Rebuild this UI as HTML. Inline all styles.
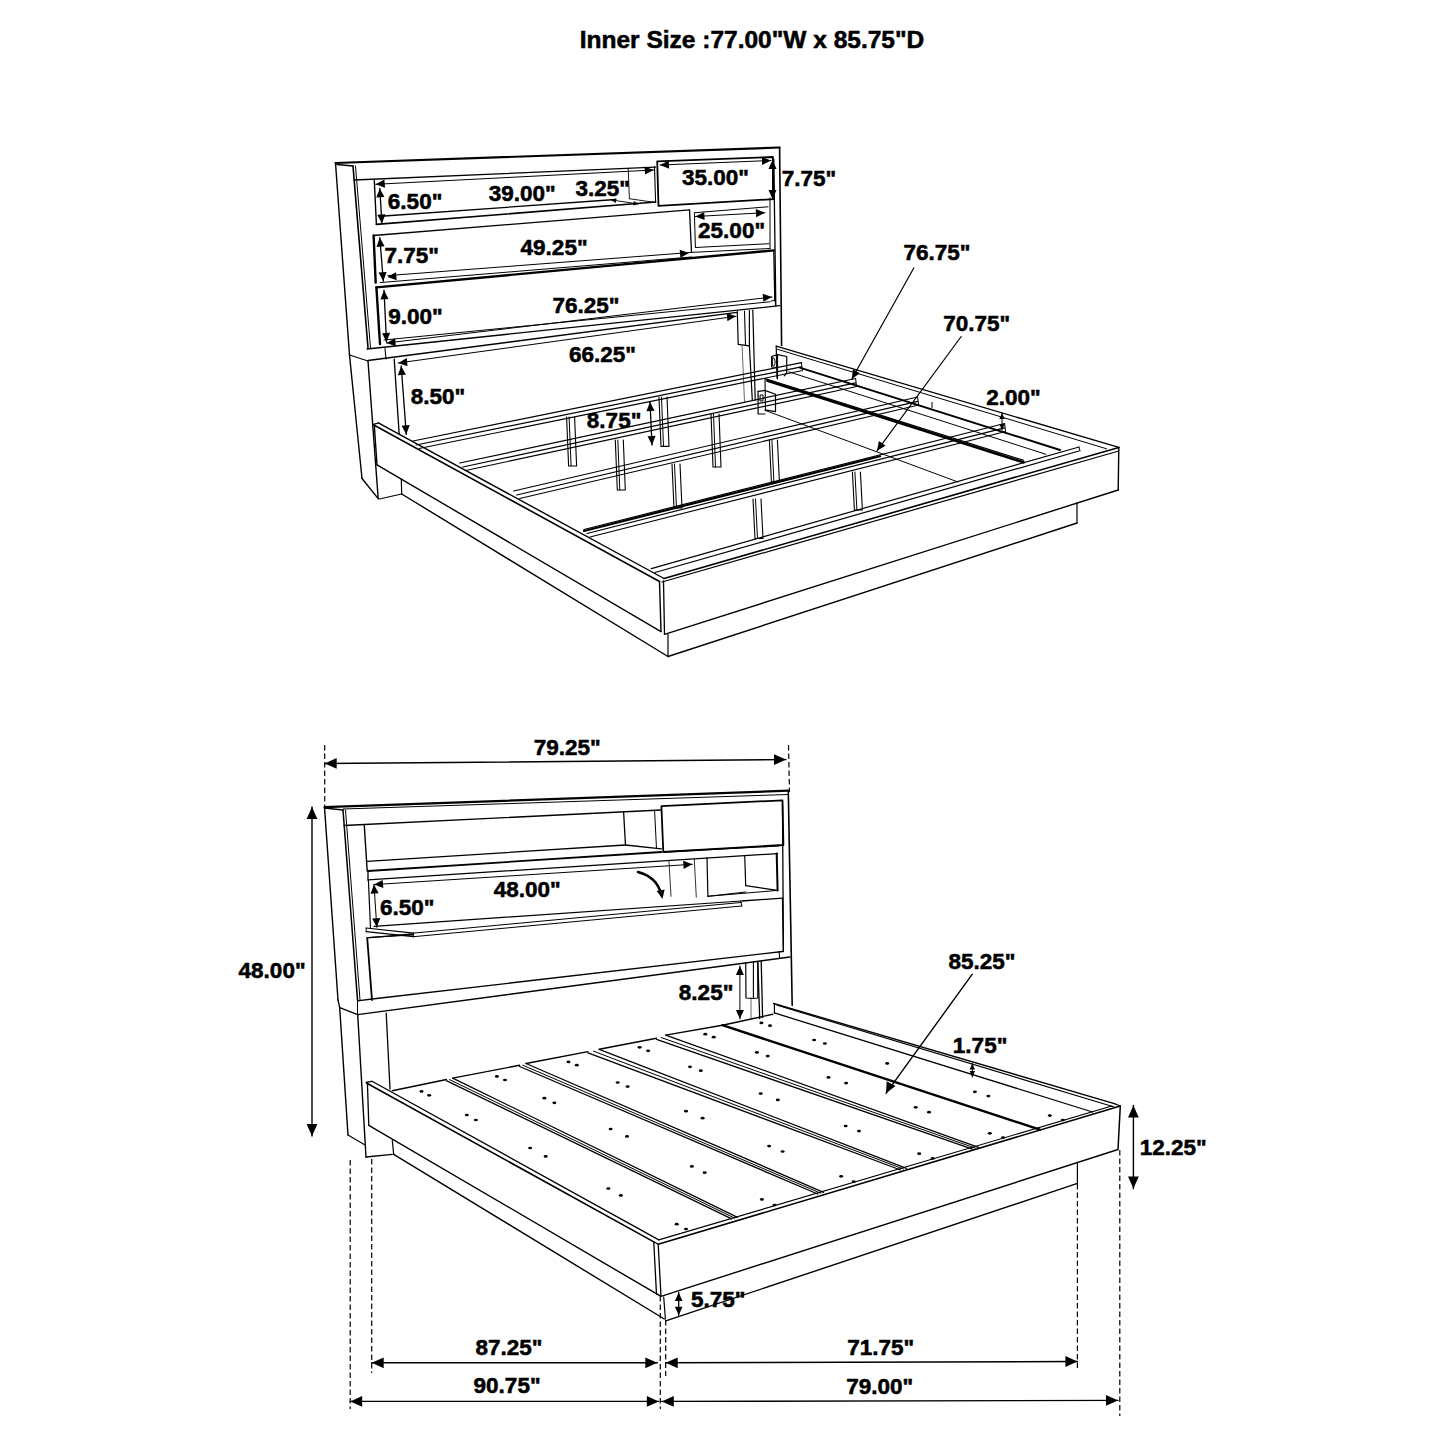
<!DOCTYPE html>
<html><head><meta charset="utf-8"><style>
html,body{margin:0;padding:0;background:#fff;width:1445px;height:1445px;overflow:hidden}
svg{display:block}
text{font-family:"Liberation Sans",sans-serif;font-weight:bold;fill:#000;stroke:#000;stroke-width:0.55px}
</style></head><body>
<svg width="1445" height="1445" viewBox="0 0 1445 1445">
<g fill="none" stroke="#000" stroke-linecap="round" stroke-linejoin="round">
<polyline points="335.5,163.0 779.6,147.5" stroke-width="2.20"/>
<polyline points="779.6,147.5 781.6,345.5" stroke-width="1.60"/>
<polyline points="335.5,163.0 349.5,355.0" stroke-width="1.40"/>
<polyline points="337.0,164.5 353.0,166.0" stroke-width="1.30"/>
<polyline points="353.0,166.0 368.0,348.0" stroke-width="1.60"/>
<polyline points="355.5,166.0 370.5,348.0" stroke-width="1.00"/>
<polyline points="354.0,180.0 655.6,167.1" stroke-width="1.30"/>
<polyline points="349.5,355.0 368.0,361.0" stroke-width="1.30"/>
<polyline points="349.5,355.0 362.0,478.5" stroke-width="1.40"/>
<polyline points="362.0,478.5 378.2,498.6" stroke-width="1.40"/>
<polyline points="368.0,361.0 378.2,498.6" stroke-width="1.40"/>
<polyline points="374.3,180.8 376.4,224.4" stroke-width="1.40"/>
<polyline points="376.4,224.4 655.6,202.0" stroke-width="1.60"/>
<polyline points="384.0,216.0 615.7,199.5" stroke-width="1.30"/>
<polyline points="628.2,168.3 629.4,198.7" stroke-width="0.90"/>
<polyline points="654.5,166.4 655.6,202.5" stroke-width="1.10"/>
<polyline points="629.4,198.7 655.3,202.5" stroke-width="0.90"/>
<polyline points="611.1,199.9 638.5,204.0" stroke-width="0.90"/>
<polyline points="657.2,161.3 772.9,157.0 773.8,199.1 658.5,205.9 657.2,161.3" stroke-width="1.80"/>
<polyline points="773.8,159.4 775.8,305.7" stroke-width="1.30"/>
<polyline points="770.0,198.0 770.0,248.5" stroke-width="1.00"/>
<polyline points="373.6,235.5 689.5,209.8" stroke-width="1.30"/>
<polyline points="689.5,209.8 691.5,252.4" stroke-width="1.30"/>
<polyline points="373.6,235.5 375.7,282.6" stroke-width="2.40"/>
<polyline points="388.0,275.6 691.5,252.4" stroke-width="1.00"/>
<polyline points="380.0,282.6 691.5,257.0" stroke-width="1.00"/>
<polyline points="695.0,212.7 768.0,206.8" stroke-width="1.00"/>
<polyline points="695.4,247.5 769.0,243.7" stroke-width="1.00"/>
<polyline points="694.4,212.7 695.4,247.5" stroke-width="1.00"/>
<polyline points="691.5,252.4 770.0,248.5" stroke-width="1.00"/>
<polyline points="376.4,287.4 773.8,250.4" stroke-width="2.40"/>
<polyline points="773.8,250.4 774.8,300.8" stroke-width="1.30"/>
<polyline points="376.4,287.4 380.0,344.0" stroke-width="2.40"/>
<polyline points="384.0,340.0 770.0,301.8" stroke-width="1.00"/>
<polyline points="367.0,349.0 779.6,305.7" stroke-width="1.30"/>
<polyline points="368.0,360.5 737.0,312.4" stroke-width="1.30"/>
<polyline points="394.2,359.1 399.2,434.4" stroke-width="1.30"/>
<polyline points="385.0,348.5 386.0,359.0" stroke-width="1.10"/>
<polyline points="737.3,311.5 738.2,344.4 749.4,345.9 749.4,310.5" stroke-width="1.20"/>
<polyline points="744.5,311.0 745.5,345.0" stroke-width="1.10"/>
<polyline points="749.4,345.9 752.3,400.0" stroke-width="1.20"/>
<polyline points="752.8,310.0 755.2,400.0" stroke-width="1.20"/>
<polyline points="742.1,345.9 744.5,402.0" stroke-width="0.60"/>
<polyline points="775.0,280.0 775.5,305.7" stroke-width="1.10"/>
<polyline points="771.0,301.0 775.0,300.3" stroke-width="1.00"/>
<polyline points="379.8,188.4 381.9,223.5" stroke-width="1.30"/>
<polyline points="379.8,237.6 383.3,281.2" stroke-width="1.30"/>
<polyline points="384.0,290.2 386.5,342.0" stroke-width="1.30"/>
<polyline points="401.2,366.0 406.3,434.4" stroke-width="1.30"/>
<polyline points="650.0,402.0 652.0,445.0" stroke-width="1.30"/>
<polyline points="375.7,184.3 653.7,170.0" stroke-width="1.00"/>
<polyline points="386.5,343.0 772.0,297.0" stroke-width="1.00"/>
<polyline points="398.2,363.0 736.0,316.3" stroke-width="1.00"/>
<polyline points="660.0,165.0 771.0,160.5" stroke-width="1.00"/>
<polyline points="772.5,160.0 772.5,199.0" stroke-width="1.00"/>
<polyline points="695.4,216.5 765.0,212.7" stroke-width="1.00"/>
<polyline points="374.3,425.2 659.5,581.5" stroke-width="1.60"/>
<polyline points="373.4,424.3 378.8,422.9" stroke-width="1.20"/>
<polyline points="378.8,423.1 664.0,578.5" stroke-width="1.40"/>
<polyline points="374.3,425.2 377.0,464.8" stroke-width="1.40"/>
<polyline points="377.0,464.8 661.0,631.6" stroke-width="1.40"/>
<polyline points="659.5,581.5 661.0,631.6" stroke-width="1.40"/>
<polyline points="663.5,581.0 664.5,634.3" stroke-width="1.30"/>
<polyline points="664.0,578.5 1118.8,447.4" stroke-width="1.60"/>
<polyline points="662.0,582.0 1118.8,451.0" stroke-width="1.20"/>
<polyline points="664.5,634.3 1118.2,490.0" stroke-width="1.40"/>
<polyline points="1118.8,447.4 1118.2,490.0" stroke-width="1.40"/>
<polyline points="401.3,479.2 401.7,494.0" stroke-width="1.20"/>
<polyline points="379.2,499.0 401.7,494.0" stroke-width="1.20"/>
<polyline points="401.7,494.0 668.0,656.5" stroke-width="1.40"/>
<polyline points="668.0,634.0 668.0,656.5" stroke-width="1.20"/>
<polyline points="668.0,656.5 1077.0,523.0" stroke-width="1.40"/>
<polyline points="1077.0,503.0 1077.0,523.0" stroke-width="1.20"/>
<polyline points="776.2,346.2 1118.8,447.4" stroke-width="1.40"/>
<polyline points="777.5,349.3 1106.6,448.8" stroke-width="1.00"/>
<polyline points="776.2,346.2 777.0,378.0" stroke-width="1.20"/>
<polyline points="413.0,441.0 801.4,362.6" stroke-width="1.20"/>
<polyline points="416.0,445.0 801.4,366.9" stroke-width="1.20"/>
<polyline points="419.0,448.5 801.4,370.8" stroke-width="1.10"/>
<polyline points="801.4,362.6 802.4,370.8" stroke-width="1.00"/>
<polyline points="459.7,463.0 855.6,378.5" stroke-width="1.20"/>
<polyline points="462.7,467.0 855.6,382.8" stroke-width="1.20"/>
<polyline points="465.7,470.5 855.6,386.7" stroke-width="1.10"/>
<polyline points="855.6,378.5 856.6,386.7" stroke-width="1.00"/>
<polyline points="513.7,491.0 917.6,397.0" stroke-width="1.20"/>
<polyline points="516.7,495.0 917.6,401.3" stroke-width="1.20"/>
<polyline points="519.7,498.5 917.6,405.2" stroke-width="1.10"/>
<polyline points="917.6,397.0 918.6,405.2" stroke-width="1.00"/>
<polyline points="584.0,529.5 1004.6,423.5" stroke-width="1.20"/>
<polyline points="587.0,533.5 1004.6,427.8" stroke-width="1.20"/>
<polyline points="590.0,537.0 1004.6,431.7" stroke-width="1.10"/>
<polyline points="1004.6,423.5 1005.6,431.7" stroke-width="1.00"/>
<polyline points="584.0,531.0 880.0,456.3" stroke-width="2.20"/>
<polyline points="651.3,568.6 1079.0,447.0" stroke-width="1.20"/>
<polyline points="655.0,572.5 1079.0,451.0" stroke-width="1.20"/>
<polyline points="1079.0,447.0 1080.0,451.0" stroke-width="1.00"/>
<polyline points="765.0,378.6 1023.6,460.3" stroke-width="1.20"/>
<polyline points="767.5,380.8 1023.6,462.3" stroke-width="2.60"/>
<polyline points="765.0,378.6 765.5,410.7" stroke-width="1.10"/>
<polyline points="799.8,367.6 1060.0,450.0" stroke-width="2.00"/>
<polyline points="788.7,371.8 1046.0,454.3" stroke-width="1.00"/>
<polyline points="766.0,410.7 958.0,482.0" stroke-width="1.00"/>
<polyline points="771.6,356.5 777.5,354.6 786.7,356.5 786.7,373.0 784.2,375.9" stroke-width="1.20"/>
<polyline points="771.6,356.5 771.6,367.0 777.5,367.5" stroke-width="1.20"/>
<polyline points="777.5,354.6 777.5,378.8" stroke-width="1.20"/>
<path d="M772.7,357.5 Q775,358 775,361 L775,364 Q774,367 772.7,366Z" stroke-width="1.00"/>
<polyline points="758.1,391.4 764.9,390.4 775.5,394.3 775.5,411.7 764.9,409.8" stroke-width="1.20"/>
<polyline points="758.1,391.4 758.1,414.0 764.9,414.0" stroke-width="1.20"/>
<path d="M760.5,395 L763,395 L763,401 L760.5,401Z" stroke-width="1.00"/>
<polyline points="932.0,402.4 932.0,407.6" stroke-width="1.00"/>
<polyline points="566.6,417.0 568.6,466.0 576.6,466.0 574.6,417.0" stroke-width="1.10"/>
<polyline points="569.1,417.0 571.1,466.0" stroke-width="1.00"/>
<polyline points="615.3,440.0 617.3,490.0 625.3,490.0 623.3,440.0" stroke-width="1.10"/>
<polyline points="617.8,440.0 619.8,490.0" stroke-width="1.00"/>
<polyline points="659.0,397.0 661.0,446.4 669.0,446.4 667.0,397.0" stroke-width="1.10"/>
<polyline points="661.5,397.0 663.5,446.4" stroke-width="1.00"/>
<polyline points="711.0,414.0 713.0,467.0 721.0,467.0 719.0,414.0" stroke-width="1.10"/>
<polyline points="713.5,414.0 715.5,467.0" stroke-width="1.00"/>
<polyline points="672.0,464.0 674.0,508.0 682.0,508.0 680.0,464.0" stroke-width="1.10"/>
<polyline points="674.5,464.0 676.5,508.0" stroke-width="1.00"/>
<polyline points="769.4,440.0 771.4,482.0 779.4,482.0 777.4,440.0" stroke-width="1.10"/>
<polyline points="771.9,440.0 773.9,482.0" stroke-width="1.00"/>
<polyline points="753.0,499.0 755.0,538.5 763.0,538.5 761.0,499.0" stroke-width="1.10"/>
<polyline points="755.5,499.0 757.5,538.5" stroke-width="1.00"/>
<polyline points="852.4,472.0 854.4,510.0 862.4,510.0 860.4,472.0" stroke-width="1.10"/>
<polyline points="854.9,472.0 856.9,510.0" stroke-width="1.00"/>
<polyline points="913.8,268.0 851.8,379.0" stroke-width="1.20"/>
<polyline points="961.2,336.5 877.0,450.8" stroke-width="1.20"/>
<polyline points="1002.0,413.0 1002.0,430.0" stroke-width="1.00"/>
<polyline points="324.7,745.0 324.7,806.0" stroke-width="1.20" stroke-dasharray="5.5 3" stroke-linecap="butt"/>
<polyline points="788.5,745.0 789.5,792.0" stroke-width="1.20" stroke-dasharray="5.5 3" stroke-linecap="butt"/>
<polyline points="324.7,763.5 786.0,759.6" stroke-width="1.40"/>
<polyline points="312.0,807.0 312.0,1136.0" stroke-width="1.40"/>
<polyline points="324.5,807.1 788.3,790.7" stroke-width="2.20"/>
<polyline points="343.0,809.0 788.3,794.5" stroke-width="1.00"/>
<polyline points="324.5,808.0 343.0,810.0" stroke-width="1.30"/>
<polyline points="788.3,790.7 792.2,1005.5" stroke-width="1.60"/>
<polyline points="324.5,807.1 338.0,1000.0" stroke-width="1.40"/>
<polyline points="343.0,810.0 357.5,1000.0" stroke-width="1.50"/>
<polyline points="345.5,810.0 360.0,1000.0" stroke-width="1.00"/>
<polyline points="344.0,825.5 661.0,810.0" stroke-width="1.30"/>
<polyline points="364.3,825.5 367.2,871.0" stroke-width="1.40"/>
<polyline points="367.2,861.4 625.5,845.0" stroke-width="1.30"/>
<polyline points="625.5,845.0 661.4,848.8" stroke-width="1.30"/>
<polyline points="368.0,871.0 661.4,852.0" stroke-width="1.80"/>
<polyline points="663.3,852.0 778.6,845.9" stroke-width="1.30"/>
<polyline points="623.6,812.0 625.5,845.0" stroke-width="1.30"/>
<polyline points="654.6,811.0 656.5,848.8" stroke-width="1.00"/>
<polyline points="661.4,806.2 782.5,800.3 783.4,845.0 663.3,852.0 661.4,806.2" stroke-width="1.80"/>
<polyline points="782.5,804.2 783.4,951.5" stroke-width="1.30"/>
<polyline points="368.0,879.8 777.6,853.6" stroke-width="1.30"/>
<polyline points="368.0,871.0 368.0,880.0" stroke-width="1.30"/>
<polyline points="374.0,884.6 692.4,864.3" stroke-width="1.00"/>
<polyline points="669.0,861.4 671.0,896.3" stroke-width="0.80"/>
<polyline points="694.3,859.4 696.3,897.2" stroke-width="0.80"/>
<polyline points="707.0,857.5 707.9,896.3" stroke-width="1.20"/>
<polyline points="744.7,855.6 745.7,885.6" stroke-width="1.20"/>
<polyline points="745.7,885.6 777.6,890.4" stroke-width="1.20"/>
<polyline points="707.9,896.3 745.7,892.0" stroke-width="1.00"/>
<polyline points="776.7,853.6 777.6,890.4" stroke-width="2.00"/>
<polyline points="707.9,896.3 777.6,890.4" stroke-width="1.00"/>
<polyline points="374.0,926.3 740.8,901.0" stroke-width="1.20"/>
<polyline points="366.2,928.0 413.4,933.1" stroke-width="1.20"/>
<polyline points="366.2,931.7 413.4,936.7" stroke-width="1.20"/>
<polyline points="366.2,928.0 366.2,931.7" stroke-width="1.00"/>
<polyline points="413.4,933.1 413.4,936.7" stroke-width="1.00"/>
<polyline points="413.4,933.1 740.8,902.5" stroke-width="1.00"/>
<polyline points="413.4,936.7 741.8,906.0" stroke-width="1.00"/>
<polyline points="740.8,901.0 741.8,906.0" stroke-width="1.00"/>
<polyline points="368.0,937.5 413.0,935.0" stroke-width="1.00"/>
<polyline points="368.4,880.0 370.5,928.0" stroke-width="1.20"/>
<path d="M638,872 Q657,877 661,894" stroke-width="2.60"/>
<polyline points="367.2,937.9 412.7,934.0" stroke-width="1.30"/>
<polyline points="741.8,901.0 782.5,898.2" stroke-width="1.30"/>
<polyline points="782.5,898.2 783.4,950.5" stroke-width="1.30"/>
<polyline points="367.2,937.9 372.0,1000.0" stroke-width="1.80"/>
<polyline points="372.0,999.0 782.5,951.5" stroke-width="1.30"/>
<polyline points="357.5,1000.8 372.0,999.0" stroke-width="1.30"/>
<polyline points="357.7,1014.6 789.8,957.0" stroke-width="1.40"/>
<polyline points="779.1,951.6 779.6,957.5" stroke-width="1.10"/>
<polyline points="357.5,1000.8 357.5,1014.6" stroke-width="1.00"/>
<polyline points="386.2,1013.1 390.0,1089.0" stroke-width="1.30"/>
<polyline points="374.0,884.6 376.8,927.3" stroke-width="1.00"/>
<polyline points="739.9,966.0 739.9,1018.9" stroke-width="1.00"/>
<polyline points="745.7,962.8 746.0,998.0 753.4,998.5 757.8,998.0 757.8,961.5" stroke-width="1.20"/>
<polyline points="753.4,962.0 753.4,998.5" stroke-width="1.10"/>
<polyline points="757.8,961.3 759.7,1018.5" stroke-width="1.30"/>
<polyline points="761.2,961.3 762.6,1017.5" stroke-width="1.30"/>
<polyline points="751.0,998.0 751.0,1018.0" stroke-width="0.60"/>
<polyline points="338.0,1000.0 339.7,1007.7" stroke-width="1.30"/>
<polyline points="339.7,1007.7 357.7,1014.6" stroke-width="1.30"/>
<polyline points="339.7,1007.7 348.0,1135.0" stroke-width="1.40"/>
<polyline points="348.0,1135.0 364.6,1144.7" stroke-width="1.20"/>
<polyline points="357.7,1014.6 366.0,1157.0" stroke-width="1.40"/>
<polyline points="366.0,1157.0 392.3,1154.4" stroke-width="1.30"/>
<polyline points="366.5,1083.0 654.3,1242.1" stroke-width="1.60"/>
<polyline points="366.2,1082.3 372.0,1081.3" stroke-width="1.20"/>
<polyline points="372.0,1081.3 658.8,1239.9" stroke-width="1.30"/>
<polyline points="367.4,1082.4 368.8,1125.3" stroke-width="1.30"/>
<polyline points="368.8,1125.3 661.0,1296.4" stroke-width="1.40"/>
<polyline points="653.8,1242.7 656.5,1294.2" stroke-width="1.30"/>
<polyline points="658.2,1244.3 661.0,1296.4" stroke-width="1.30"/>
<polyline points="392.3,1140.6 393.7,1154.4" stroke-width="1.20"/>
<polyline points="393.7,1154.4 664.3,1319.0" stroke-width="1.40"/>
<polyline points="663.7,1297.0 665.4,1319.0" stroke-width="1.20"/>
<polyline points="666.5,1320.7 1077.4,1183.4" stroke-width="1.40"/>
<polyline points="1077.4,1163.0 1077.4,1183.4" stroke-width="1.20"/>
<polyline points="654.3,1242.1 658.2,1244.3" stroke-width="1.20"/>
<polyline points="658.2,1244.3 1120.3,1106.0" stroke-width="1.60"/>
<polyline points="658.8,1239.9 1111.8,1106.0" stroke-width="1.10"/>
<polyline points="661.0,1296.4 1118.0,1149.5" stroke-width="1.40"/>
<polyline points="1120.3,1106.0 1118.0,1149.5" stroke-width="1.50"/>
<polyline points="1114.3,1103.6 1120.3,1106.0" stroke-width="1.20"/>
<polyline points="773.6,1003.5 1114.3,1103.6" stroke-width="1.40"/>
<polyline points="777.2,1005.3 1114.3,1107.0" stroke-width="1.10"/>
<polyline points="774.4,1004.0 774.4,1012.9" stroke-width="1.20"/>
<polyline points="774.4,1012.9 1092.5,1112.0" stroke-width="1.30"/>
<polyline points="392.3,1090.7 446.4,1079.5" stroke-width="1.40"/>
<polyline points="452.7,1078.1 519.6,1065.3" stroke-width="1.40"/>
<polyline points="526.0,1063.5 588.0,1051.6" stroke-width="1.40"/>
<polyline points="599.2,1049.3 656.5,1038.2" stroke-width="1.40"/>
<polyline points="665.7,1035.1 722.4,1025.2" stroke-width="1.40"/>
<polyline points="722.4,1025.2 772.7,1014.3" stroke-width="1.40"/>
<polyline points="446.4,1080.7 731.7,1218.9" stroke-width="1.30"/>
<polyline points="452.7,1078.1 737.5,1217.3" stroke-width="1.30"/>
<polyline points="449.5,1079.6 734.6,1218.1" stroke-width="1.00"/>
<polyline points="519.6,1066.5 817.7,1194.0" stroke-width="1.30"/>
<polyline points="526.0,1063.5 823.5,1192.3" stroke-width="1.30"/>
<polyline points="522.8,1065.2 820.6,1193.2" stroke-width="1.00"/>
<polyline points="588.0,1052.8 900.6,1170.0" stroke-width="1.30"/>
<polyline points="599.2,1049.3 906.5,1168.3" stroke-width="1.30"/>
<polyline points="593.6,1051.2 903.6,1169.1" stroke-width="1.00"/>
<polyline points="656.5,1039.4 972.5,1149.1" stroke-width="1.30"/>
<polyline points="665.7,1035.1 978.5,1147.4" stroke-width="1.30"/>
<polyline points="661.1,1037.5 975.5,1148.2" stroke-width="1.00"/>
<polyline points="722.4,1025.2 1039.8,1129.6" stroke-width="2.40"/>
<ellipse cx="421.5" cy="1091.4" rx="2.0" ry="1.35" fill="#000" stroke="none"/>
<ellipse cx="429.2" cy="1095.3" rx="2.0" ry="1.35" fill="#000" stroke="none"/>
<ellipse cx="466.8" cy="1115.0" rx="2.0" ry="1.35" fill="#000" stroke="none"/>
<ellipse cx="475.9" cy="1120.0" rx="2.0" ry="1.35" fill="#000" stroke="none"/>
<ellipse cx="530.1" cy="1148.0" rx="2.0" ry="1.35" fill="#000" stroke="none"/>
<ellipse cx="545.7" cy="1156.4" rx="2.0" ry="1.35" fill="#000" stroke="none"/>
<ellipse cx="608.4" cy="1188.5" rx="2.0" ry="1.35" fill="#000" stroke="none"/>
<ellipse cx="620.8" cy="1195.4" rx="2.0" ry="1.35" fill="#000" stroke="none"/>
<ellipse cx="676.7" cy="1224.2" rx="2.0" ry="1.35" fill="#000" stroke="none"/>
<ellipse cx="686.0" cy="1229.0" rx="2.0" ry="1.35" fill="#000" stroke="none"/>
<ellipse cx="496.9" cy="1076.4" rx="2.0" ry="1.35" fill="#000" stroke="none"/>
<ellipse cx="505.0" cy="1080.0" rx="2.0" ry="1.35" fill="#000" stroke="none"/>
<ellipse cx="544.4" cy="1098.2" rx="2.0" ry="1.35" fill="#000" stroke="none"/>
<ellipse cx="554.4" cy="1102.8" rx="2.0" ry="1.35" fill="#000" stroke="none"/>
<ellipse cx="610.6" cy="1129.0" rx="2.0" ry="1.35" fill="#000" stroke="none"/>
<ellipse cx="627.0" cy="1136.4" rx="2.0" ry="1.35" fill="#000" stroke="none"/>
<ellipse cx="691.8" cy="1166.4" rx="2.0" ry="1.35" fill="#000" stroke="none"/>
<ellipse cx="704.7" cy="1172.7" rx="2.0" ry="1.35" fill="#000" stroke="none"/>
<ellipse cx="761.9" cy="1199.4" rx="2.0" ry="1.35" fill="#000" stroke="none"/>
<ellipse cx="774.5" cy="1205.1" rx="2.0" ry="1.35" fill="#000" stroke="none"/>
<ellipse cx="568.5" cy="1061.9" rx="2.0" ry="1.35" fill="#000" stroke="none"/>
<ellipse cx="576.8" cy="1065.2" rx="2.0" ry="1.35" fill="#000" stroke="none"/>
<ellipse cx="617.7" cy="1082.5" rx="2.0" ry="1.35" fill="#000" stroke="none"/>
<ellipse cx="627.6" cy="1086.6" rx="2.0" ry="1.35" fill="#000" stroke="none"/>
<ellipse cx="686.0" cy="1111.2" rx="2.0" ry="1.35" fill="#000" stroke="none"/>
<ellipse cx="702.6" cy="1118.2" rx="2.0" ry="1.35" fill="#000" stroke="none"/>
<ellipse cx="769.1" cy="1146.1" rx="2.0" ry="1.35" fill="#000" stroke="none"/>
<ellipse cx="782.6" cy="1151.5" rx="2.0" ry="1.35" fill="#000" stroke="none"/>
<ellipse cx="841.1" cy="1176.3" rx="2.0" ry="1.35" fill="#000" stroke="none"/>
<ellipse cx="853.7" cy="1181.7" rx="2.0" ry="1.35" fill="#000" stroke="none"/>
<ellipse cx="639.6" cy="1047.3" rx="2.0" ry="1.35" fill="#000" stroke="none"/>
<ellipse cx="648.1" cy="1050.8" rx="2.0" ry="1.35" fill="#000" stroke="none"/>
<ellipse cx="690.0" cy="1066.8" rx="2.0" ry="1.35" fill="#000" stroke="none"/>
<ellipse cx="700.8" cy="1070.7" rx="2.0" ry="1.35" fill="#000" stroke="none"/>
<ellipse cx="760.7" cy="1093.6" rx="2.0" ry="1.35" fill="#000" stroke="none"/>
<ellipse cx="777.8" cy="1099.9" rx="2.0" ry="1.35" fill="#000" stroke="none"/>
<ellipse cx="845.6" cy="1126.0" rx="2.0" ry="1.35" fill="#000" stroke="none"/>
<ellipse cx="859.0" cy="1131.1" rx="2.0" ry="1.35" fill="#000" stroke="none"/>
<ellipse cx="919.2" cy="1153.7" rx="2.0" ry="1.35" fill="#000" stroke="none"/>
<ellipse cx="932.7" cy="1158.4" rx="2.0" ry="1.35" fill="#000" stroke="none"/>
<ellipse cx="705.3" cy="1034.2" rx="2.0" ry="1.35" fill="#000" stroke="none"/>
<ellipse cx="713.7" cy="1037.2" rx="2.0" ry="1.35" fill="#000" stroke="none"/>
<ellipse cx="756.9" cy="1052.4" rx="2.0" ry="1.35" fill="#000" stroke="none"/>
<ellipse cx="767.7" cy="1056.1" rx="2.0" ry="1.35" fill="#000" stroke="none"/>
<ellipse cx="828.5" cy="1077.4" rx="2.0" ry="1.35" fill="#000" stroke="none"/>
<ellipse cx="846.1" cy="1083.1" rx="2.0" ry="1.35" fill="#000" stroke="none"/>
<ellipse cx="915.7" cy="1107.3" rx="2.0" ry="1.35" fill="#000" stroke="none"/>
<ellipse cx="929.0" cy="1112.2" rx="2.0" ry="1.35" fill="#000" stroke="none"/>
<ellipse cx="989.8" cy="1133.3" rx="2.0" ry="1.35" fill="#000" stroke="none"/>
<ellipse cx="1003.0" cy="1137.6" rx="2.0" ry="1.35" fill="#000" stroke="none"/>
<ellipse cx="761.4" cy="1022.9" rx="2.0" ry="1.35" fill="#000" stroke="none"/>
<ellipse cx="770.0" cy="1025.7" rx="2.0" ry="1.35" fill="#000" stroke="none"/>
<ellipse cx="814.1" cy="1040.0" rx="2.0" ry="1.35" fill="#000" stroke="none"/>
<ellipse cx="824.9" cy="1043.5" rx="2.0" ry="1.35" fill="#000" stroke="none"/>
<ellipse cx="887.2" cy="1063.4" rx="2.0" ry="1.35" fill="#000" stroke="none"/>
<ellipse cx="974.9" cy="1091.8" rx="2.0" ry="1.35" fill="#000" stroke="none"/>
<ellipse cx="988.4" cy="1096.1" rx="2.0" ry="1.35" fill="#000" stroke="none"/>
<ellipse cx="1049.8" cy="1115.6" rx="2.0" ry="1.35" fill="#000" stroke="none"/>
<ellipse cx="1062.8" cy="1120.0" rx="2.0" ry="1.35" fill="#000" stroke="none"/>
<polyline points="972.3,974.2 886.0,1093.3" stroke-width="1.40"/>
<polyline points="972.3,1063.5 972.3,1077.0" stroke-width="1.00"/>
<polyline points="1133.4,1105.4 1133.4,1188.5" stroke-width="1.40"/>
<polyline points="350.2,1160.0 350.2,1409.0" stroke-width="1.20" stroke-dasharray="5.5 3" stroke-linecap="butt"/>
<polyline points="371.7,1159.0 371.7,1373.0" stroke-width="1.20" stroke-dasharray="5.5 3" stroke-linecap="butt"/>
<polyline points="660.3,1296.0 660.3,1409.0" stroke-width="1.20" stroke-dasharray="5.5 3" stroke-linecap="butt"/>
<polyline points="665.7,1320.0 665.7,1376.0" stroke-width="1.20" stroke-dasharray="5.5 3" stroke-linecap="butt"/>
<polyline points="1077.4,1184.0 1077.4,1370.0" stroke-width="1.20" stroke-dasharray="5.5 3" stroke-linecap="butt"/>
<polyline points="1119.8,1150.0 1119.8,1416.0" stroke-width="1.20" stroke-dasharray="5.5 3" stroke-linecap="butt"/>
<polyline points="371.7,1362.8 657.3,1362.8" stroke-width="1.40"/>
<polyline points="350.2,1401.4 658.8,1401.4" stroke-width="1.40"/>
<polyline points="665.7,1362.8 1077.4,1361.5" stroke-width="1.40"/>
<polyline points="661.8,1401.4 1118.0,1400.4" stroke-width="1.40"/>
<polyline points="678.7,1292.5 678.7,1315.2" stroke-width="1.30"/>
</g>
<g fill="#000">
<path d="M611.1,199.9L615.7,202.9L616.4,198.4Z"/>
<path d="M638.5,204.0L633.9,201.0L633.2,205.5Z"/>
<path d="M379.8,188.4L376.3,197.6L384.4,197.1Z"/>
<path d="M381.9,223.5L385.4,214.3L377.3,214.8Z"/>
<path d="M379.8,237.6L376.5,246.9L384.6,246.2Z"/>
<path d="M383.3,281.2L386.6,271.9L378.5,272.6Z"/>
<path d="M384.0,290.2L380.4,299.4L388.5,299.0Z"/>
<path d="M386.5,342.0L390.1,332.8L382.0,333.2Z"/>
<path d="M401.2,366.0L397.8,375.3L405.9,374.7Z"/>
<path d="M406.3,434.4L409.7,425.1L401.6,425.7Z"/>
<path d="M650.0,402.0L646.4,411.2L654.5,410.8Z"/>
<path d="M652.0,445.0L655.6,435.8L647.5,436.2Z"/>
<path d="M375.7,184.3L385.0,187.7L384.4,179.6Z"/>
<path d="M653.7,170.0L644.5,166.5L645.0,174.6Z"/>
<path d="M387.4,277.0L396.7,280.2L396.0,272.2Z"/>
<path d="M689.0,253.0L679.7,249.7L680.4,257.8Z"/>
<path d="M386.5,343.0L395.8,346.3L395.1,338.2Z"/>
<path d="M772.0,297.0L762.7,293.8L763.4,301.8Z"/>
<path d="M398.2,363.0L407.5,366.2L406.8,358.1Z"/>
<path d="M736.0,316.3L726.7,313.1L727.4,321.2Z"/>
<path d="M660.0,165.0L669.2,168.7L668.8,160.6Z"/>
<path d="M771.0,160.5L761.8,156.8L762.2,164.9Z"/>
<path d="M772.5,160.0L768.5,169.0L776.5,169.0Z"/>
<path d="M772.5,199.0L776.5,190.0L768.5,190.0Z"/>
<path d="M695.4,216.5L704.6,220.1L704.2,212.0Z"/>
<path d="M765.0,212.7L755.8,209.1L756.2,217.2Z"/>
<path d="M851.8,379.0L859.8,373.3L852.9,369.2Z"/>
<path d="M877.0,450.8L885.5,445.8L878.9,441.1Z"/>
<path d="M1002.0,413.0L999.3,419.0L1004.7,419.0Z"/>
<path d="M1002.0,430.0L1004.7,424.0L999.3,424.0Z"/>
<path d="M324.7,763.5L336.7,768.8L336.7,758.0Z"/>
<path d="M786.0,759.6L774.0,754.3L774.0,765.1Z"/>
<path d="M312.0,807.0L306.6,819.0L317.4,819.0Z"/>
<path d="M312.0,1136.0L317.4,1124.0L306.6,1124.0Z"/>
<path d="M662.5,899.0L664.6,889.4L656.7,891.0Z"/>
<path d="M374.0,884.6L370.5,893.8L378.6,893.3Z"/>
<path d="M376.8,927.3L380.3,918.1L372.2,918.6Z"/>
<path d="M374.0,884.6L383.3,887.9L382.7,879.9Z"/>
<path d="M692.4,864.3L683.2,860.8L683.7,868.9Z"/>
<path d="M739.9,966.0L735.9,975.0L743.9,975.0Z"/>
<path d="M739.9,1018.9L743.9,1009.9L735.9,1009.9Z"/>
<path d="M886.0,1093.3L895.5,1085.9L886.7,1081.3Z"/>
<path d="M972.3,1063.5L969.6,1069.5L975.0,1069.5Z"/>
<path d="M972.3,1077.0L975.0,1071.0L969.6,1071.0Z"/>
<path d="M1133.4,1105.4L1128.0,1117.4L1138.8,1117.4Z"/>
<path d="M1133.4,1188.5L1138.8,1176.5L1128.0,1176.5Z"/>
<path d="M371.7,1362.8L383.7,1368.2L383.7,1357.4Z"/>
<path d="M657.3,1362.8L645.3,1357.4L645.3,1368.2Z"/>
<path d="M350.2,1401.4L362.2,1406.8L362.2,1396.0Z"/>
<path d="M658.8,1401.4L646.8,1396.0L646.8,1406.8Z"/>
<path d="M665.7,1362.8L677.7,1368.2L677.7,1357.4Z"/>
<path d="M1077.4,1361.5L1065.4,1356.1L1065.4,1366.9Z"/>
<path d="M661.8,1401.4L673.8,1406.8L673.8,1396.0Z"/>
<path d="M1118.0,1400.4L1106.0,1395.0L1106.0,1405.8Z"/>
<path d="M678.7,1292.5L674.9,1301.0L682.5,1301.0Z"/>
<path d="M678.7,1315.2L682.5,1306.7L674.9,1306.7Z"/>
</g>
<text x="415.1" y="208.7" font-size="22.5" text-anchor="middle">6.50&quot;</text>
<text x="522.2" y="200.9" font-size="22.5" text-anchor="middle">39.00&quot;</text>
<text x="602.8" y="195.9" font-size="22.5" text-anchor="middle">3.25&quot;</text>
<text x="411.8" y="263.3" font-size="22.5" text-anchor="middle">7.75&quot;</text>
<text x="554.1" y="254.6" font-size="22.5" text-anchor="middle">49.25&quot;</text>
<text x="415.5" y="323.6" font-size="22.5" text-anchor="middle">9.00&quot;</text>
<text x="585.9" y="312.6" font-size="22.5" text-anchor="middle">76.25&quot;</text>
<text x="602.5" y="362.0" font-size="22.5" text-anchor="middle">66.25&quot;</text>
<text x="437.9" y="404.2" font-size="22.5" text-anchor="middle">8.50&quot;</text>
<text x="614.1" y="427.9" font-size="22.5" text-anchor="middle">8.75&quot;</text>
<text x="715.5" y="185.2" font-size="22.5" text-anchor="middle">35.00&quot;</text>
<text x="808.9" y="185.8" font-size="22.5" text-anchor="middle">7.75&quot;</text>
<text x="731.6" y="238.1" font-size="22.5" text-anchor="middle">25.00&quot;</text>
<text x="936.9" y="260.3" font-size="22.5" text-anchor="middle">76.75&quot;</text>
<text x="976.7" y="330.9" font-size="22.5" text-anchor="middle">70.75&quot;</text>
<text x="1013.4" y="405.2" font-size="22.5" text-anchor="middle">2.00&quot;</text>
<text x="752.0" y="47.6" font-size="24.5" text-anchor="middle">Inner Size :77.00&quot;W x 85.75&quot;D</text>
<text x="567.2" y="755.3" font-size="22.5" text-anchor="middle">79.25&quot;</text>
<text x="272.1" y="978.0" font-size="22.5" text-anchor="middle">48.00&quot;</text>
<text x="527.2" y="897.3" font-size="22.5" text-anchor="middle">48.00&quot;</text>
<text x="407.2" y="914.9" font-size="22.5" text-anchor="middle">6.50&quot;</text>
<text x="706.1" y="999.7" font-size="22.5" text-anchor="middle">8.25&quot;</text>
<text x="982.0" y="968.5" font-size="22.5" text-anchor="middle">85.25&quot;</text>
<text x="980.1" y="1053.0" font-size="22.5" text-anchor="middle">1.75&quot;</text>
<text x="1173.2" y="1154.9" font-size="22.5" text-anchor="middle">12.25&quot;</text>
<text x="718.3" y="1306.5" font-size="22.5" text-anchor="middle">5.75&quot;</text>
<text x="508.9" y="1354.9" font-size="22.5" text-anchor="middle">87.25&quot;</text>
<text x="880.8" y="1355.0" font-size="22.5" text-anchor="middle">71.75&quot;</text>
<text x="507.1" y="1392.9" font-size="22.5" text-anchor="middle">90.75&quot;</text>
<text x="879.8" y="1394.0" font-size="22.5" text-anchor="middle">79.00&quot;</text>
</svg>
</body></html>
